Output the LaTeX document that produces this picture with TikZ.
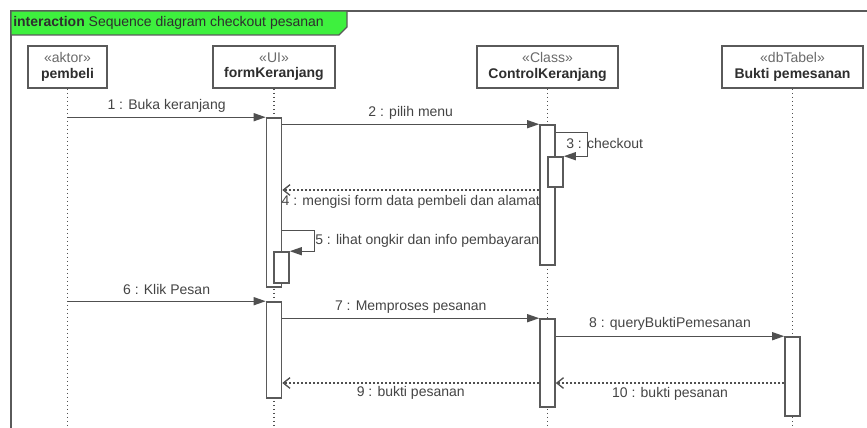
\documentclass[tikz,border=0pt]{standalone}
\usepackage{fontspec}
\setmainfont{Liberation Sans}
\usetikzlibrary{arrows.meta}
\definecolor{linegray}{HTML}{505050}
\definecolor{boxgray}{HTML}{5A5A5A}
\definecolor{namegray}{HTML}{2E2E2E}
\definecolor{stereogray}{HTML}{6A6A6A}
\definecolor{labelgray}{HTML}{444444}
\definecolor{tabgreen}{HTML}{3EF03E}
\tikzset{
  lifebox/.style={draw=boxgray, line width=1.2pt, fill=white, minimum height=31.5pt,
    inner sep=0pt, align=center, font=\fontsize{10.5}{11.5}\selectfont, text=namegray},
  actbox/.style={draw=boxgray, line width=1.2pt, fill=white, minimum width=11.25pt, inner sep=0pt},
  lifeline/.style={draw=linegray, line width=1.2pt, dash pattern=on 1.2pt off 1.8pt},
  msg/.style={draw=linegray, line width=1pt, -{Triangle[length=9pt,width=6pt]}},
  ret/.style={draw=linegray, line width=1pt, dash pattern=on 1.3pt off 1.7pt,
    -{Straight Barb[length=5pt,width=8pt]}},
  lbl/.style={font=\fontsize{10.5}{12}\selectfont, text=labelgray, inner sep=0pt},
}
\newcommand{\stereo}[1]{{\color{stereogray}\guillemotleft #1\guillemotright}}
\begin{document}
\begin{tikzpicture}[x=0.75pt,y=-0.75pt]
\useasboundingbox (0,0) rectangle (867,428);
\clip (0,0) rectangle (867,428);

% interaction frame and its name tab
\draw[boxgray, line width=1.2pt] (11,440) -- (11,11) -- (880,11);
\draw[boxgray, line width=1pt, fill=tabgreen] (11,11) -- (347,11) -- (347,27) -- (339,35) -- (11,35) -- cycle;
\node[anchor=west, inner sep=0pt, font=\fontsize{10.5}{12}\selectfont, text=namegray] (title) at (13,23)
  {\textbf{interaction} Sequence diagram checkout pesanan};

% lifeline heads
\node[lifebox, minimum width=59.25pt]  (pembeli) at (67.5,67) {\stereo{aktor}\\\textbf{pembeli}};
\node[lifebox, minimum width=91.5pt]   (form)    at (274,67)  {\stereo{UI}\\\textbf{formKeranjang}};
\node[lifebox, minimum width=105.75pt] (ctrl)    at (547.5,67) {\stereo{Class}\\\textbf{ControlKeranjang}};
\node[lifebox, minimum width=105.75pt] (bukti)   at (792.5,67) {\stereo{dbTabel}\\\textbf{Bukti pemesanan}};

\coordinate (bottom) at (0,440);
\foreach \h in {pembeli,form,ctrl,bukti}
  \draw[lifeline] (\h.south) -- (\h.south |- bottom);

% activation bars
\node[actbox, minimum height=126.75pt] (fk1) at (274,202.5) {};
\node[actbox, minimum height=23.25pt]  (fk2) at (281.5,267.5) {};
\node[actbox, minimum height=72pt]     (fk3) at (274,350) {};
\node[actbox, minimum height=105pt]    (ck1) at (547.5,195) {};
\node[actbox, minimum height=22.5pt]   (ck2) at (555.5,172) {};
\node[actbox, minimum height=66pt]     (ck3) at (547.5,363) {};
\node[actbox, minimum height=59.25pt]  (bp1) at (792.5,376.5) {};

% messages
\draw[msg] (pembeli.south |- fk1.north) -- (fk1.north west)
  node[lbl, midway, yshift=8.25pt] {1 : Buka keranjang};
\draw[msg] (fk1.east |- ck1.north) -- (ck1.north west)
  node[lbl, midway, yshift=8.25pt] {2 : pilih menu};
\draw[msg] ([yshift=-6pt]ck1.north east) -- ++(32,0) |- (ck2.north east);
\node[lbl, anchor=west] (m3) at (566,143) {3 : checkout};
\draw[ret] (ck1.west |- 0,190) -- (fk1.east |- 0,190)
  node[lbl, midway, yshift=-9pt] {4 : mengisi form data pembeli dan alamat};
\draw[msg] ([yshift=-84.75pt]fk1.north east) -- ++(32,0) |- (fk2.north east);
\node[lbl, anchor=west] (m5) at (315,241) {5 : lihat ongkir dan info pembayaran};
\draw[msg] (pembeli.south |- fk3.north) -- (fk3.north west)
  node[lbl, midway, yshift=9pt] {6 : Klik Pesan};
\draw[msg] (fk3.east |- ck3.north) -- (ck3.north west)
  node[lbl, midway, yshift=8.25pt] {7 : Memproses pesanan};
\draw[msg] (ck3.east |- bp1.north) -- (bp1.north west)
  node[lbl, midway, yshift=9pt] {8 : queryBuktiPemesanan};
\draw[ret] (ck3.west |- 0,383) -- (fk3.east |- 0,383)
  node[lbl, midway, yshift=-7.5pt] {9 : bukti pesanan};
\draw[ret] (bp1.west |- 0,383) -- (ck3.east |- 0,383)
  node[lbl, midway, yshift=-8.25pt] {10 : bukti pesanan};
\end{tikzpicture}
\end{document}
